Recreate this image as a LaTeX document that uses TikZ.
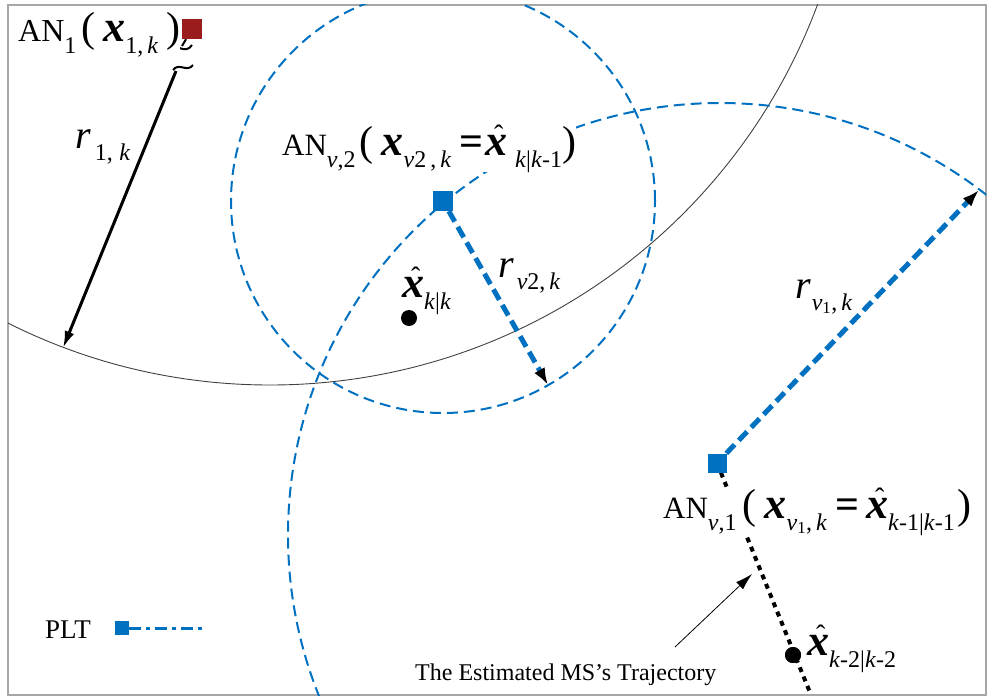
\documentclass[tikz,border=0pt]{standalone}
\usepackage{amsmath}
\usepackage{fontspec}
\setmainfont{Liberation Serif}
\usetikzlibrary{arrows.meta,positioning,calc}
\definecolor{plblue}{RGB}{0,112,192}
\definecolor{anred}{RGB}{155,28,28}
\newcommand{\setfs}[1]{\fontsize{#1}{#1}\selectfont}
\newcommand{\bvec}{{\setfs{44}\bfseries\itshape x}}
\newcommand{\hvec}{\makebox[0pt][l]{\hspace{9pt}\raisebox{11pt}{\setfs{28}\symbol{"02C6}}}\bvec}
\newcommand{\lo}[1]{\raisebox{-12pt}{\setfs{24}#1}}
\newcommand{\bigp}[1]{{\setfs{42}#1}}

\begin{document}
\begin{tikzpicture}[
		x=1pt, y=-1pt,
		>=Latex,
		ansq/.style={rectangle, minimum size=20pt, inner sep=0pt},
		estdot/.style={circle, fill=black, minimum size=16pt, inner sep=0pt},
		rangecirc/.style={plblue, line width=2pt, dash pattern=on 11pt off 6pt},
		rngarrow/.style={plblue, line width=5pt, dash pattern=on 12pt off 6pt,
			-{Latex[black,length=17pt,width=12pt]}},
		lbl/.style={inner sep=0pt, fill=white, anchor=base west},
		txt/.style={inner sep=0pt, anchor=base west}
		]
		
		\useasboundingbox (0,0) rectangle (987,698);
		
		% --------------------------------------------------
		% Frame
		% --------------------------------------------------
		\draw[gray!70, line width=1.5pt] (8,5) rectangle (986,695);
		
		% --------------------------------------------------
		% Anchor nodes and points
		% --------------------------------------------------
		\coordinate (C1) at (270,-199);
		\coordinate (Cv1) at (720,535);
		\coordinate (T1) at (63,348);
		\coordinate (Tv2) at (548,385);
		\coordinate (Tv1) at (979,190);
		\coordinate (B1) at (176,71);
		\coordinate (TrEnd) at (811,695);
		
		\node[ansq, fill=anred] (AN1) at (192,29) {};
		\node[ansq, fill=plblue] (ANv2) at (443,201) {};
		\node[ansq, fill=plblue, minimum size=19pt] (ANv1) at (717,463) {};
		\node[estdot] (xkk) at (409,318) {};
		\node[estdot] (xkk2) at (793,655) {};
		
		% --------------------------------------------------
		% Range circles
		% --------------------------------------------------
		\begin{scope}
			\clip (8,5) rectangle (986,695);
			\draw[black!75, line width=0.9pt] (C1) circle[radius=584pt];
			\draw[rangecirc] (ANv2) circle[radius=212pt];
			\draw[rangecirc] (Cv1) circle[radius=432pt];
		\end{scope}
		
		% --------------------------------------------------
		% Ranges
		% --------------------------------------------------
		\draw[line width=3pt, -{Latex[length=17pt,width=10pt]}] (B1) -- (T1);
		% break marks
		\draw[line width=2pt] (AN1) -- (182,46);
		\draw[line width=2pt] (169,50) .. controls (175,41) and (185,56) .. (192,45);
		\draw[line width=2pt] (173,70) .. controls (179,62) and (187,73) .. (193,65);
		
		\draw[rngarrow] (ANv2) -- (Tv2);
		\draw[rngarrow] (ANv1) -- (Tv1);
		
		% --------------------------------------------------
		% Trajectory
		% --------------------------------------------------
		\draw[line width=4pt, dash pattern=on 5pt off 5pt] (ANv1) -- (TrEnd);
		\node[estdot] at (xkk2) {};
		
		\node[txt] (traj) at (415,680) {\setfs{24}The Estimated MS's Trajectory};
		\coordinate (TrTip) at (752,574);
		\draw[line width=0.8pt, -{Latex[length=17pt,width=10pt]}] (675,647) -- (TrTip);
		
		% --------------------------------------------------
		% Labels
		% --------------------------------------------------
		\node[lbl] (lAN1) at (18,42) {%
			{\setfs{32}AN}\lo{1}\hspace{5pt}\bigp{(}\hspace{8pt}\bvec\lo{1,\,\textit{k}}\hspace{8pt}\bigp{)}};
		\node[lbl] (lANv2) at (282,155) {%
			{\setfs{31}AN}\lo{\textit{v},2}\hspace{4pt}\bigp{(}\hspace{8pt}\bvec\lo{\textit{v}2\,,\,\textit{k}}%
			\hspace{8pt}\bigp{\textbf{=}}\hspace{2pt}\hvec\lo{\hspace{8pt}\textit{k}|\textit{k}-1}\bigp{)}};
		\node[lbl] (lANv1) at (663,518) {%
			{\setfs{31}AN}\lo{\textit{v},1}\hspace{6pt}\bigp{(}\hspace{8pt}\bvec\lo{\textit{v}\textsubscript{1},\,\textit{k}}%
			\hspace{8pt}\bigp{\textbf{=}}\hspace{7pt}\hvec\lo{\textit{k}-1|\textit{k}-1}\hspace{3pt}\bigp{)}};
		
		\node[txt] (r1) at (75,148) {{\setfs{40}\itshape r}\lo{\hspace{4pt}1,\;\textit{k}}};
		\node[txt] (rv2) at (498,277) {{\setfs{40}\itshape r}\lo{\hspace{3pt}\textit{v}2,\,\textit{k}}};
		\node[txt] (rv1) at (795,298) {{\setfs{40}\itshape r}\lo{\hspace{1pt}\textit{v}\textsubscript{1},\,\textit{k}}};
		
		\node[txt] (lxkk) at (402,297) {\hvec\lo{\textit{k}|\textit{k}}};
		\node[txt] (lxkk2) at (807,655) {\hvec\lo{\textit{k}-2|\textit{k}-2}};
		
		% --------------------------------------------------
		% Legend
		% --------------------------------------------------
		\node[txt] (plt) at (45,638) {\setfs{27}PLT};
		\node[ansq, fill=plblue, minimum size=14pt] (pltsq) at (122,628) {};
		\coordinate (pltend) at (205,628);
		\draw[plblue, line width=3pt, dash pattern=on 12pt off 5pt on 4pt off 5pt] (pltsq.east) -- (pltend);
		
		% squares on top
		\node[ansq, fill=anred] at (AN1) {};
		\node[ansq, fill=plblue] at (ANv2) {};
		\node[ansq, fill=plblue, minimum size=19pt] at (ANv1) {};
		
	\end{tikzpicture}
\end{document}
